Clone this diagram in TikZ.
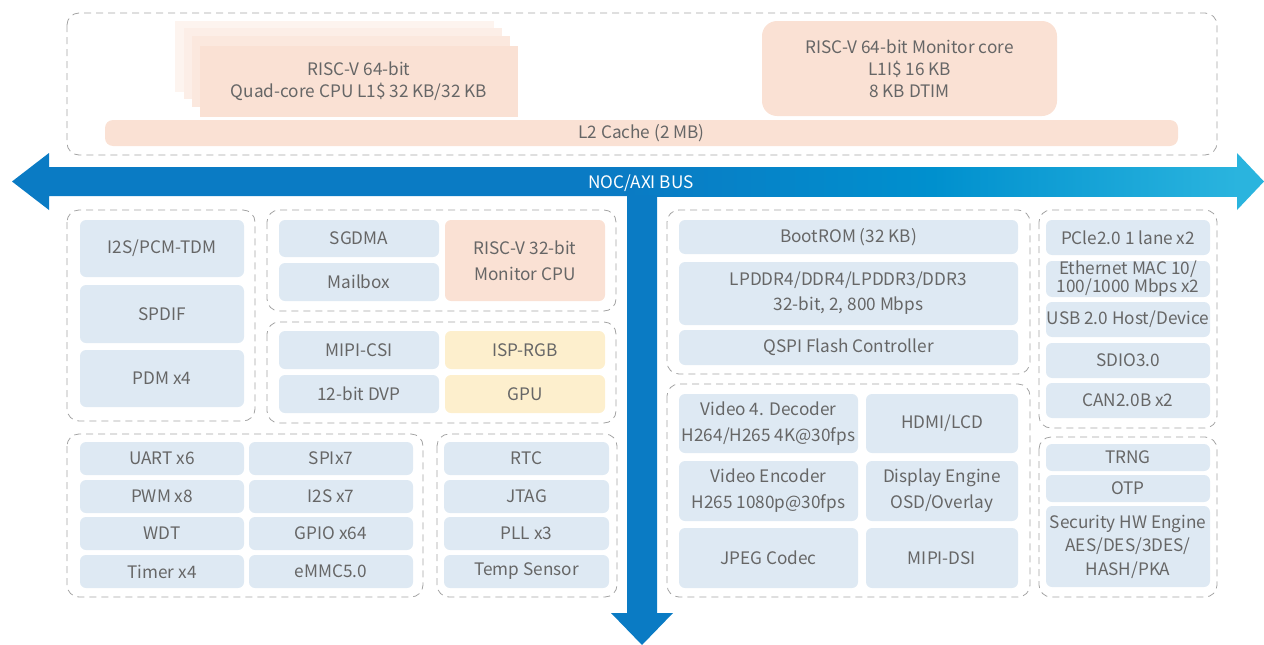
\documentclass[tikz,border=0pt]{standalone}
\usepackage{fontspec}
\setmainfont{Noto Sans CJK SC}
\usepackage{tikz}
\usetikzlibrary{arrows.meta}

\definecolor{blkblue}{HTML}{DEE9F3}
\definecolor{peach}{HTML}{FAE1D4}
\definecolor{peachB}{HTML}{FBE8DE}
\definecolor{peachC}{HTML}{FCEEE7}
\definecolor{peachD}{HTML}{FDF4EF}
\definecolor{ispyel}{HTML}{FDEFCD}
\definecolor{dashgray}{HTML}{A3A3A3}
\definecolor{txtgray}{HTML}{666666}
\definecolor{busdark}{HTML}{0A7BC4}
\definecolor{busmid}{HTML}{0090CE}
\definecolor{buscyan}{HTML}{2AB4DE}

\begin{document}
\begin{tikzpicture}[x=1pt, y=-1pt,
  grp/.style={draw=dashgray, line width=0.8pt, dash pattern=on 7pt off 5pt, rounded corners=12pt},
  blk/.style 2 args={fill=blkblue, rounded corners=6pt, text=txtgray, align=center,
    inner sep=0pt, minimum width=#1, minimum height=#2,
    font=\fontsize{17.2}{22}\selectfont}]

\useasboundingbox (0,0) rectangle (1264,645);

% CPU cluster
\draw[grp] (67,13) rectangle (1217,155);
\fill[peachD] (175,21) rectangle (494,92);
\fill[peachC] (184,28) rectangle (502,99);
\fill[peachB] (192,36) rectangle (510,107);
\node[blk={318pt}{71pt}, fill=peach, rounded corners=0pt] (quad) at (359,81.5)
  {RISC-V 64-bit\\Quad-core CPU L1\$ 32 KB/32 KB};
\node[blk={295pt}{95pt}, fill=peach, rounded corners=15pt] (moncore) at (909.5,68.5)
  {RISC-V 64-bit Monitor core\\L1I\$ 16 KB\\8 KB DTIM};
\node[blk={1073pt}{26pt}, fill=peach, rounded corners=8pt] (l2) at (641.5,133)
  {L2 Cache (2 MB)};

% NOC/AXI bus
\fill[busdark] (12,181.5) -- (49,153) -- (49,167) -- (640,167) -- (640,196)
  -- (49,196) -- (49,210) -- cycle;
\shade[left color=busdark, right color=buscyan, middle color=busmid] (627,167) rectangle (1238,196);
\fill[buscyan] (1237,153) -- (1264,181.5) -- (1237,210) -- cycle;
\fill[busdark] (627,195) -- (657,195) -- (657,613) -- (673,613) -- (642,645)
  -- (611,613) -- (627,613) -- cycle;
\node[text=white, font=\fontsize{17.2}{20}\selectfont] (bus) at (641,183) {NOC/AXI BUS};

% Audio
\draw[grp] (67,210) rectangle (255,421);
\node[blk={164pt}{57pt}] (i2s) at (162,248.5) {I2S/PCM-TDM};
\node[blk={164pt}{58pt}] (spdif) at (162,314) {SPDIF};
\node[blk={164pt}{57pt}] (pdm) at (162,378.5) {PDM x4};

% DMA and monitor CPU
\draw[grp] (267,210) rectangle (616,311);
\node[blk={160pt}{37pt}] (sgdma) at (359,238.5) {SGDMA};
\node[blk={160pt}{38pt}] (mailbox) at (359,282) {Mailbox};
\node[blk={160pt}{81pt}, fill=peach, font=\fontsize{17.2}{26}\selectfont] (rvmon) at (525,260.5)
  {RISC-V 32-bit\\Monitor CPU};

% Camera and graphics
\draw[grp] (267,322) rectangle (616,423);
\node[blk={160pt}{38pt}] (csi) at (359,350) {MIPI-CSI};
\node[blk={160pt}{38pt}] (dvp) at (359,394) {12-bit DVP};
\node[blk={160pt}{38pt}, fill=ispyel] (isp) at (525,350) {ISP-RGB};
\node[blk={160pt}{38pt}, fill=ispyel] (gpu) at (525,394) {GPU};

% Low speed peripherals
\draw[grp] (67,434) rectangle (423,597);
\node[blk={164pt}{33pt}] (uart) at (162,458.5) {UART x6};
\node[blk={164pt}{33pt}] (pwm) at (162,496.5) {PWM x8};
\node[blk={164pt}{33pt}] (wdt) at (162,533.5) {WDT};
\node[blk={164pt}{33pt}] (timer) at (162,571.5) {Timer x4};
\node[blk={164pt}{33pt}] (spi) at (331,458.5) {SPIx7};
\node[blk={164pt}{33pt}] (i2sb) at (331,496.5) {I2S x7};
\node[blk={164pt}{33pt}] (gpio) at (331,533.5) {GPIO x64};
\node[blk={164pt}{33pt}] (emmc) at (331,571.5) {eMMC5.0};

% System
\draw[grp] (437,434) rectangle (617,597);
\node[blk={165pt}{33pt}] (rtc) at (526.5,458.5) {RTC};
\node[blk={165pt}{33pt}] (jtag) at (526.5,496.5) {JTAG};
\node[blk={165pt}{33pt}] (pll) at (526.5,533.5) {PLL x3};
\node[blk={165pt}{33pt}] (temp) at (526.5,571.5) {Temp Sensor};

% Memory
\draw[grp] (667,210) rectangle (1030,374);
\node[blk={339pt}{34pt}] (bootrom) at (848.5,237) {BootROM (32 KB)};
\node[blk={339pt}{63pt}, font=\fontsize{17.2}{25}\selectfont] (ddr) at (848.5,293.5)
  {LPDDR4/DDR4/LPDDR3/DDR3\\32-bit, 2, 800 Mbps};
\node[blk={339pt}{35pt}] (qspi) at (848.5,347.5) {QSPI Flash Controller};

% High speed interfaces
\draw[grp] (1039,210) rectangle (1217,428);
\node[blk={164pt}{35pt}] (pcie) at (1128,237.5) {PCle2.0 1 lane x2};
\node[blk={164pt}{36pt}, font=\fontsize{17.2}{18}\selectfont] (eth) at (1128,279)
  {Ethernet MAC 10/\\100/1000 Mbps x2};
\node[blk={164pt}{35pt}] (usb) at (1128,319.5) {USB 2.0 Host/Device};
\node[blk={164pt}{35pt}] (sdio) at (1128,360.5) {SDIO3.0};
\node[blk={164pt}{35pt}] (can) at (1128,400.5) {CAN2.0B x2};

% Video and display
\draw[grp] (667,384) rectangle (1030,597);
\node[blk={179pt}{59pt}, font=\fontsize{17.2}{26}\selectfont] (vdec) at (768.5,423.5)
  {Video 4. Decoder\\H264/H265 4K@30fps};
\node[blk={179pt}{60pt}, font=\fontsize{17.2}{26}\selectfont] (venc) at (768.5,491)
  {Video Encoder\\H265 1080p@30fps};
\node[blk={179pt}{60pt}] (jpeg) at (768.5,558) {JPEG Codec};
\node[blk={152pt}{59pt}] (hdmi) at (942,423.5) {HDMI/LCD};
\node[blk={152pt}{60pt}, font=\fontsize{17.2}{26}\selectfont] (disp) at (942,491)
  {Display Engine\\OSD/Overlay};
\node[blk={152pt}{60pt}] (dsi) at (942,558) {MIPI-DSI};

% Security
\draw[grp] (1039,437) rectangle (1217,597);
\node[blk={164pt}{27pt}] (trng) at (1128,457.5) {TRNG};
\node[blk={164pt}{27pt}] (otp) at (1128,488.5) {OTP};
\node[blk={164pt}{81pt}, font=\fontsize{17.2}{23.5}\selectfont] (sec) at (1128,546.5)
  {Security HW Engine\\AES/DES/3DES/\\HASH/PKA};

\end{tikzpicture}
\end{document}
